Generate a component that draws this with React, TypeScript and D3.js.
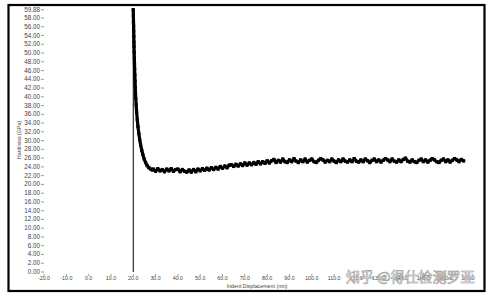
import React from "react";
import * as d3 from "d3";

const xTicks = [-20, -10, 0, 10, 20, 30, 40, 50, 60, 70, 80, 90, 100, 110, 120, 130, 140, 150, 160, 170];
const yTicks = [0, 2, 4, 6, 8, 10, 12, 14, 16, 18, 20, 22, 24, 26, 28, 30, 32, 34, 36, 38, 40, 42, 44, 46, 48, 50, 52, 54, 56, 58, 59.88];

const steepDisp = [20.0, 20.05, 20.1, 20.15, 20.2, 20.25, 20.3, 20.35, 20.4, 20.5, 20.55, 20.6, 20.7, 20.8, 20.9, 21.0, 21.1, 21.3, 21.5, 21.8, 22.1, 22.5, 22.9, 23.3, 23.8, 24.3, 24.9, 25.5, 26.2, 27.0, 27.8, 28.5];
const steepHard = [59.88, 58.5, 57.0, 56.2, 55.0, 53.8, 52.5, 51.5, 50.2, 48.8, 47.5, 46.4, 45.0, 43.6, 42.2, 40.8, 39.6, 38.2, 36.5, 34.8, 33.2, 31.6, 30.2, 29.0, 27.8, 26.8, 25.8, 25.0, 24.3, 23.8, 23.5, 23.3];

const plateauStart = 29;
const plateauHard = [
  23.5, 23.0, 23.6, 23.1, 23.4, 22.9, 23.5, 23.1, 23.6, 23.0,
  23.4, 23.5, 22.9, 23.4, 23.0, 22.8, 23.3, 22.8, 23.4, 22.9,
  23.5, 23.1, 23.6, 23.2, 23.7, 23.3, 23.8, 23.4, 23.9, 23.5,
  24.1, 23.7, 24.2, 23.8, 24.4, 24.5, 24.1, 24.6, 24.2, 24.7,
  24.3, 24.9, 24.4, 24.9, 24.5, 25.0, 24.6, 25.2, 24.7, 25.2,
  24.8, 25.4, 24.9, 25.4, 25.7, 25.0, 25.5, 25.1, 25.8, 25.2,
  25.0, 25.6, 25.2, 25.9, 25.3, 25.0, 25.6, 25.2, 25.8, 25.1,
  25.5, 25.8, 25.2, 25.0, 25.5, 25.9, 25.6, 25.1, 25.5, 25.2,
  25.8, 25.3, 25.0, 25.6, 25.2, 25.8, 25.3, 25.1, 25.6, 25.2,
  25.9, 25.3, 25.1, 25.6, 25.2, 25.8, 25.4, 25.0, 25.5, 25.8,
  25.2, 25.6, 25.1, 25.5, 25.9, 25.6, 25.2, 25.8, 25.3, 25.1,
  25.6, 25.2, 25.7, 26.0, 25.3, 25.1, 25.6, 25.2, 25.0, 25.5,
  25.8, 25.2, 25.6, 25.1, 25.5, 25.9, 25.6, 25.2, 25.0, 25.5,
  25.8, 25.2, 25.6, 25.1, 25.5, 25.9, 25.6, 25.2, 25.7, 25.4,
];

const W = 492;
const H = 298;

export default function App() {
  const x = d3.scaleLinear().domain([-20, 170]).range([44, 468]);
  const y = d3.scaleLinear().domain([0, 58]).range([272, 18]);

  const pts: [number, number][] = [];
  steepDisp.forEach((d, i) => pts.push([d, steepHard[i]]));
  plateauHard.forEach((h, i) => pts.push([plateauStart + i, h]));

  const line = d3
    .line<[number, number]>()
    .x((d) => x(d[0]))
    .y((d) => y(d[1]));

  const font = "'Liberation Sans', Arial, sans-serif";

  return (
    <svg
      width={W}
      height={H}
      style={{ position: "absolute", left: 0, top: 0, background: "#fff" }}
    >
      <rect x={0} y={0} width={W} height={H} fill="#fff" />
      <rect x={8.5} y={5} width={476} height={286} fill="none" stroke="#000" strokeWidth={2.2} />

      {yTicks.map((t) => (
        <g key={"y" + t}>
          <text x={40} y={y(t) + 2} fontSize={6.3} fontFamily={font} fill="#444" textAnchor="end">
            {t.toFixed(2)}
          </text>
          <line x1={41} x2={44} y1={y(t)} y2={y(t)} stroke="#555" strokeWidth={0.6} />
        </g>
      ))}

      {xTicks.map((t) => (
        <g key={"x" + t}>
          <line x1={x(t)} x2={x(t)} y1={274} y2={276} stroke="#555" strokeWidth={0.6} />
          <text x={x(t)} y={280} fontSize={5.3} fontFamily={font} fill="#444" textAnchor="middle">
            {t.toFixed(1)}
          </text>
        </g>
      ))}

      <text x={257} y={287.5} fontSize={5.3} fontFamily={font} fill="#444" textAnchor="middle">
        Indent Displacement (nm)
      </text>
      <text transform={`translate(21,140) rotate(-90)`} fontSize={5.3} fontFamily={font} fill="#444" textAnchor="middle">
        Hardness (GPa)
      </text>

      <line x1={x(20)} x2={x(20)} y1={y(0)} y2={y(59.88)} stroke="#000" strokeWidth={1} />

      <path
        d={line(pts) || ""}
        fill="none"
        stroke="#000"
        strokeWidth={3.2}
        strokeLinejoin="round"
        strokeLinecap="square"
      />
      {pts.map((p, i) => (
        <rect key={"m" + i} x={x(p[0]) - 1.6} y={y(p[1]) - 1.6} width={3.2} height={3.2} fill="#000" />
      ))}

      <text
        x={346}
        y={282}
        fontSize={14}
        fontFamily="'Noto Sans CJK SC', sans-serif"
        fill="#fff"
        stroke="#9a9a9a"
        strokeWidth={0.6}
      >
        知乎 @得仕检测罗亚
      </text>
    </svg>
  );
}
